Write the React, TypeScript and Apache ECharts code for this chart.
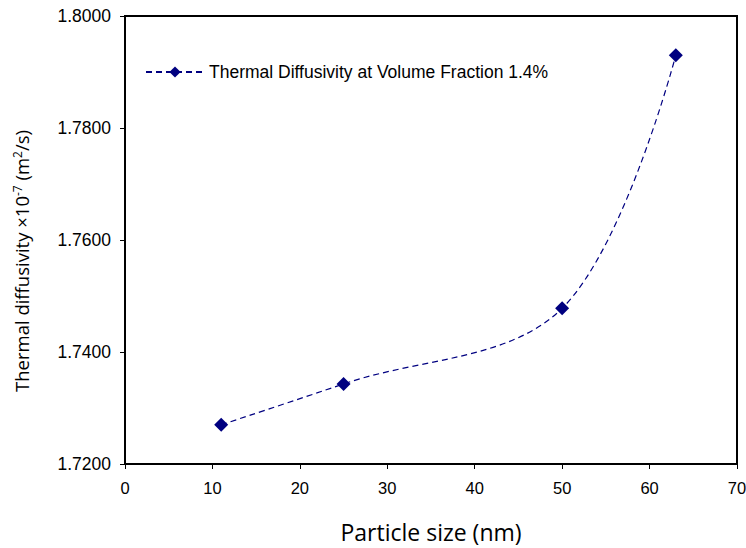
import React, { useEffect, useRef } from "react";
import * as echarts from "echarts";

const particleSize = [11, 25, 50, 63];
const diffusivity = [1.727, 1.7343, 1.7478, 1.793];
const seriesName = "Thermal Diffusivity at Volume Fraction 1.4%";

export default function App() {
  const ref = useRef<HTMLDivElement>(null);
  useEffect(() => {
    const chart = echarts.init(ref.current!, undefined, { renderer: "svg" });
    chart.setOption({
      animation: false,
      grid: {
        left: 125,
        right: 9,
        top: 16,
        bottom: 84,
        outerBoundsMode: "none",
        containLabel: false,
        show: true,
        borderColor: "#000",
        borderWidth: 2,
        backgroundColor: "transparent",
      },
      legend: {
        left: 140,
        top: 58,
        itemWidth: 58,
        itemHeight: 14,
        itemGap: 4,
        textStyle: { fontFamily: "Liberation Sans", fontSize: 17.5, color: "#000" },
        data: [seriesName],
      },
      xAxis: {
        type: "value",
        min: 0,
        max: 70,
        interval: 10,
        name: "Particle size (nm)",
        nameLocation: "middle",
        nameGap: 56,
        nameTextStyle: { fontFamily: "Open Sans", fontSize: 23, color: "#000" },
        axisLine: { show: true, lineStyle: { color: "#000", width: 2 } },
        axisTick: { show: true, length: 5, lineStyle: { color: "#000", width: 1 } },
        axisLabel: { fontFamily: "Liberation Sans", fontSize: 16.5, color: "#000", margin: 15 },
        splitLine: { show: false },
      },
      yAxis: {
        type: "value",
        min: 1.72,
        max: 1.8,
        interval: 0.02,
        name: "Thermal diffusivity ×10{sup|-7} (m{sup|2}/s)",
        nameLocation: "middle",
        nameRotate: 90,
        nameGap: 93,
        nameTextStyle: {
          fontFamily: "Open Sans",
          fontSize: 18.5,
          color: "#000",
          padding: [0, 42, 0, 0],
          rich: {
            sup: { fontFamily: "Open Sans", fontSize: 12, color: "#000", verticalAlign: "top", padding: [0, 0, 9, 0] },
          },
        },
        axisLine: { show: true, lineStyle: { color: "#000", width: 2 } },
        axisTick: { show: true, length: 5, lineStyle: { color: "#000", width: 1 } },
        axisLabel: {
          fontFamily: "Liberation Sans",
          fontSize: 17.5,
          color: "#000",
          margin: 14,
          formatter: (v: number) => v.toFixed(4),
        },
        splitLine: { show: false },
      },
      series: [
        {
          name: seriesName,
          type: "line",
          data: particleSize.map((x, i) => [x, diffusivity[i]]),
          smooth: 0.35,
          symbol: "diamond",
          symbolSize: 14,
          itemStyle: { color: "#000080" },
          lineStyle: { color: "#000080", width: 1.2, type: [6, 4] },
        },
      ],
    });
    return () => chart.dispose();
  }, []);
  return (
    <div
      ref={ref}
      style={{ position: "absolute", left: 0, top: 0, width: 746, height: 548 }}
    />
  );
}
